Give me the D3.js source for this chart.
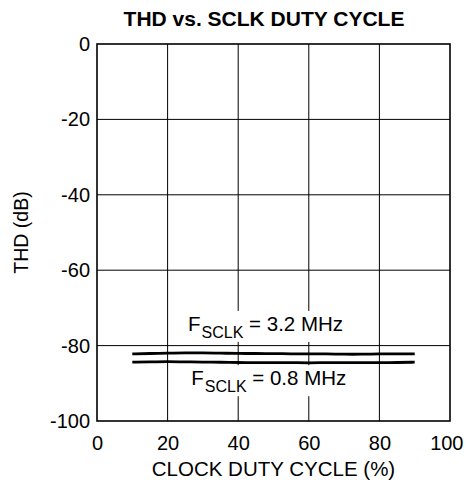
<!DOCTYPE html>
<html>
<head>
<meta charset="utf-8">
<script src="https://cdn.jsdelivr.net/npm/d3@7/dist/d3.min.js"></script>
<style>
  html, body { margin: 0; padding: 0; background: #fff; }
  svg { display: block; font-family: "Liberation Sans", Arial, Helvetica, sans-serif; }
</style>
</head>
<body>
<svg id="chart" width="466" height="487"></svg>
<script>
// THD measured across SCLK duty cycle, two clock frequencies
const dutyCycle = [10, 15, 20, 25, 30, 35, 40, 45, 50, 55, 60, 65, 70, 75, 80, 85, 90];
const thd32MHz = [-82.2, -82.1, -82.0, -81.9, -81.9, -82.0, -82.1, -82.1, -82.1, -82.2, -82.2, -82.2, -82.3, -82.3, -82.2, -82.2, -82.2];
const thd08MHz = [-84.4, -84.3, -84.2, -84.3, -84.4, -84.4, -84.5, -84.5, -84.5, -84.5, -84.6, -84.5, -84.5, -84.5, -84.5, -84.5, -84.4];

const xTicks = [0, 20, 40, 60, 80, 100];
const yTicks = [0, -20, -40, -60, -80, -100];

const seriesLabels = [
  { main: "F", sub: "SCLK", rest: " = 3.2 MHz", x: 25.8, y: -76.1 },
  { main: "F", sub: "SCLK", rest: " = 0.8 MHz", x: 26.7, y: -90.5 }
];

const svg = d3.select("#chart");
const plot = { left: 97, right: 450, top: 44, bottom: 421 };

const x = d3.scaleLinear().domain([0, 100]).range([plot.left, plot.right]);
const y = d3.scaleLinear().domain([-100, 0]).range([plot.bottom, plot.top]);

// Title
svg.append("text")
  .attr("x", 264).attr("y", 26)
  .attr("text-anchor", "middle")
  .attr("font-weight", "bold")
  .attr("font-size", 21)
  .text("THD vs. SCLK DUTY CYCLE");

// Grid
const grid = svg.append("g").attr("stroke", "#000").attr("stroke-width", 1);
grid.selectAll("line.vx").data(xTicks.filter(d => d > 0 && d < 100)).join("line")
  .attr("class", "vx")
  .attr("x1", d => x(d)).attr("x2", d => x(d))
  .attr("y1", plot.top).attr("y2", plot.bottom);
grid.selectAll("line.hy").data(yTicks.filter(d => d < 0 && d > -100)).join("line")
  .attr("class", "hy")
  .attr("x1", plot.left).attr("x2", plot.right)
  .attr("y1", d => y(d)).attr("y2", d => y(d));

// Axes (labels only; the frame is drawn below)
const plain = d => String(d);
const xAxis = svg.append("g")
  .attr("transform", `translate(0,${plot.bottom})`)
  .call(d3.axisBottom(x).tickValues(xTicks).tickFormat(plain).tickSize(0).tickPadding(15));
const yAxis = svg.append("g")
  .attr("transform", `translate(${plot.left},0)`)
  .call(d3.axisLeft(y).tickValues(yTicks).tickFormat(plain).tickSize(0).tickPadding(7));
[xAxis, yAxis].forEach(a => {
  a.select(".domain").remove();
  a.selectAll("text").attr("font-size", 20).attr("fill", "#000")
    .attr("font-family", "Liberation Sans, Arial, sans-serif");
});
// keep the last x label inside the canvas
xAxis.selectAll(".tick text").filter(d => d === 100)
  .attr("text-anchor", "end").attr("x", 13);

// Series lines
const line = d3.line().x(d => x(d[0])).y(d => y(d[1])).curve(d3.curveBasis);
[thd32MHz, thd08MHz].forEach(vals => {
  svg.append("path")
    .datum(dutyCycle.map((d, i) => [d, vals[i]]))
    .attr("fill", "none")
    .attr("stroke", "#000")
    .attr("stroke-width", 2.8)
    .attr("d", line);
});

// Series labels on white backing
seriesLabels.forEach(l => {
  const g = svg.append("g");
  const bg = g.append("rect").attr("fill", "#fff");
  const t = g.append("text")
    .attr("x", x(l.x)).attr("y", y(l.y))
    .attr("font-size", 20.5);
  t.append("tspan").text(l.main);
  t.append("tspan").attr("font-size", 16).attr("dy", 7).attr("dx", 1).text(l.sub);
  t.append("tspan").attr("dy", -7).text(l.rest);
  const b = t.node().getBBox();
  bg.attr("x", b.x - 3).attr("y", b.y - 1)
    .attr("width", b.width + 6).attr("height", b.height + 2);
});

// Frame
svg.append("rect")
  .attr("x", plot.left).attr("y", plot.top)
  .attr("width", plot.right - plot.left).attr("height", plot.bottom - plot.top)
  .attr("fill", "none").attr("stroke", "#000").attr("stroke-width", 1.6);

// Axis titles
svg.append("text")
  .attr("x", (plot.left + plot.right) / 2).attr("y", 476)
  .attr("text-anchor", "middle")
  .attr("font-size", 20.5)
  .text("CLOCK DUTY CYCLE (%)");
svg.append("text")
  .attr("transform", `translate(28,${(plot.top + plot.bottom) / 2}) rotate(-90)`)
  .attr("text-anchor", "middle")
  .attr("font-size", 19.5)
  .text("THD (dB)");
</script>
</body>
</html>
